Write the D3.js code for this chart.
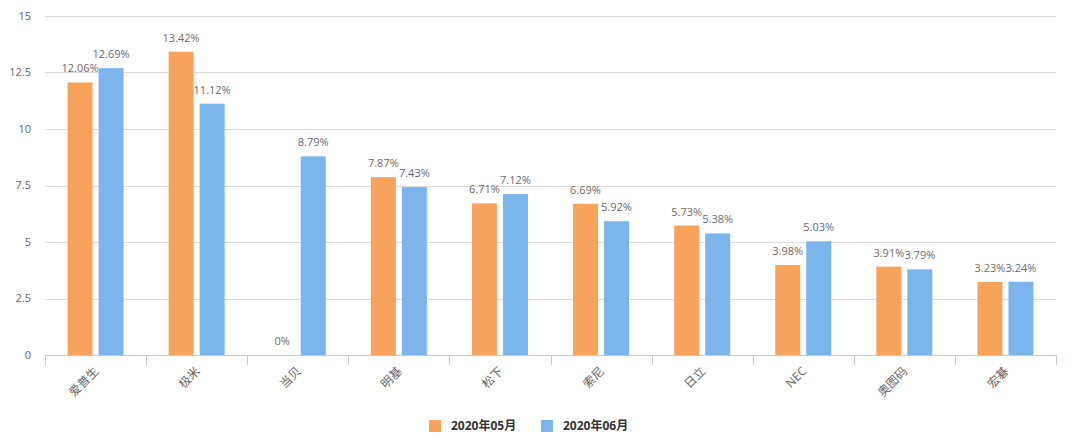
<!DOCTYPE html>
<html>
<head>
<meta charset="utf-8">
<script src="https://cdn.jsdelivr.net/npm/d3@7"></script>
<style>
body { margin: 0; background: #fff; }
svg { display: block; font-family: "Open Sans", "Noto Sans CJK SC", sans-serif; }
</style>
</head>
<body>
<div id="chart"></div>
<script>
// data
const brands = ["爱普生", "极米", "当贝", "明基", "松下", "索尼", "日立", "NEC", "奥图码", "宏碁"];
const may = [12.06, 13.42, 0, 7.87, 6.71, 6.69, 5.73, 3.98, 3.91, 3.23];
const june = [12.69, 11.12, 8.79, 7.43, 7.12, 5.92, 5.38, 5.03, 3.79, 3.24];
const seriesNames = ["2020年05月", "2020年06月"];
const colors = ["#f7a35c", "#7cb5ec"];
const yTicks = [0, 2.5, 5, 7.5, 10, 12.5, 15];

const W = 1080, H = 448;
const margin = { top: 16, right: 24, bottom: 93, left: 45 };
const width = W - margin.left - margin.right,
  height = H - margin.top - margin.bottom;

const svg = d3.select("#chart").append("svg")
  .attr("width", W).attr("height", H);

// title, mostly above the visible area
svg.append("text")
  .attr("x", W / 2).attr("y", -2)
  .attr("text-anchor", "middle")
  .attr("font-size", 18)
  .attr("fill", "#333")
  .text("2020年5-6月中国投影机品牌市场份额");

const g = svg.append("g").attr("transform", `translate(${margin.left},${margin.top})`);

const x = d3.scaleBand().domain(brands).range([0, width]);
const y = d3.scaleLinear().domain([0, 15]).range([height, 0]);

// grid
g.selectAll(".grid").data(yTicks.filter(d => d > 0)).enter().append("line")
  .attr("x1", 0).attr("x2", width)
  .attr("y1", d => Math.round(y(d)) + 0.5).attr("y2", d => Math.round(y(d)) + 0.5)
  .attr("stroke", "#dcdcdc");

// y labels
g.selectAll(".ylab").data(yTicks).enter().append("text")
  .attr("x", -14).attr("y", d => y(d))
  .attr("dy", "0.35em")
  .attr("text-anchor", "end")
  .attr("font-size", 11)
  .attr("fill", "#666")
  .text(d => d);

// x axis
const xAxis = g.append("g").attr("transform", `translate(0,${height})`);
xAxis.append("line").attr("x1", 0).attr("x2", width).attr("y1", 0.5).attr("y2", 0.5)
  .attr("stroke", "#bccde0");
xAxis.selectAll(".tick").data(d3.range(brands.length + 1)).enter().append("line")
  .attr("x1", i => Math.round(i * x.step()) + 0.5).attr("x2", i => Math.round(i * x.step()) + 0.5)
  .attr("y1", 0).attr("y2", 10)
  .attr("stroke", "#bccde0");
xAxis.selectAll(".xlab").data(brands).enter().append("text")
  .attr("transform", d => `translate(${x(d) + x.bandwidth() / 2 + 4},${17}) rotate(-45)`)
  .attr("text-anchor", "end")
  .attr("font-size", 12)
  .attr("fill", "#666")
  .text(d => d);

// bars
const barW = 25, gap = 6;
const series = [may, june];
series.forEach((vals, si) => {
  const off = si === 0 ? -(barW + gap / 2) : gap / 2;
  g.selectAll(".bar" + si).data(vals).enter().append("rect")
    .attr("x", (d, i) => x(brands[i]) + x.bandwidth() / 2 + off)
    .attr("y", d => y(d))
    .attr("width", barW)
    .attr("height", d => height - y(d))
    .attr("fill", colors[si]);
  g.selectAll(".lab" + si).data(vals).enter().append("text")
    .attr("x", (d, i) => x(brands[i]) + x.bandwidth() / 2 + off + barW / 2)
    .attr("y", d => y(d) - 10)
    .attr("text-anchor", "middle")
    .attr("font-size", 11)
    .attr("fill", si === 0 ? "#7a6a5c" : "#5f6b7c")
    .text(d => d + "%");
});

// legend
const legend = svg.append("g").attr("transform", "translate(429,420)");
const items = [{ x: 0 }, { x: 112 }];
seriesNames.forEach((name, i) => {
  const it = legend.append("g").attr("transform", `translate(${items[i].x},0)`);
  it.append("rect").attr("width", 12).attr("height", 12).attr("fill", colors[i]);
  it.append("text").attr("x", 22).attr("y", 6).attr("dy", "0.35em")
    .attr("font-size", 12).attr("font-weight", "bold").attr("fill", "#333")
    .text(name);
});
</script>
</body>
</html>
